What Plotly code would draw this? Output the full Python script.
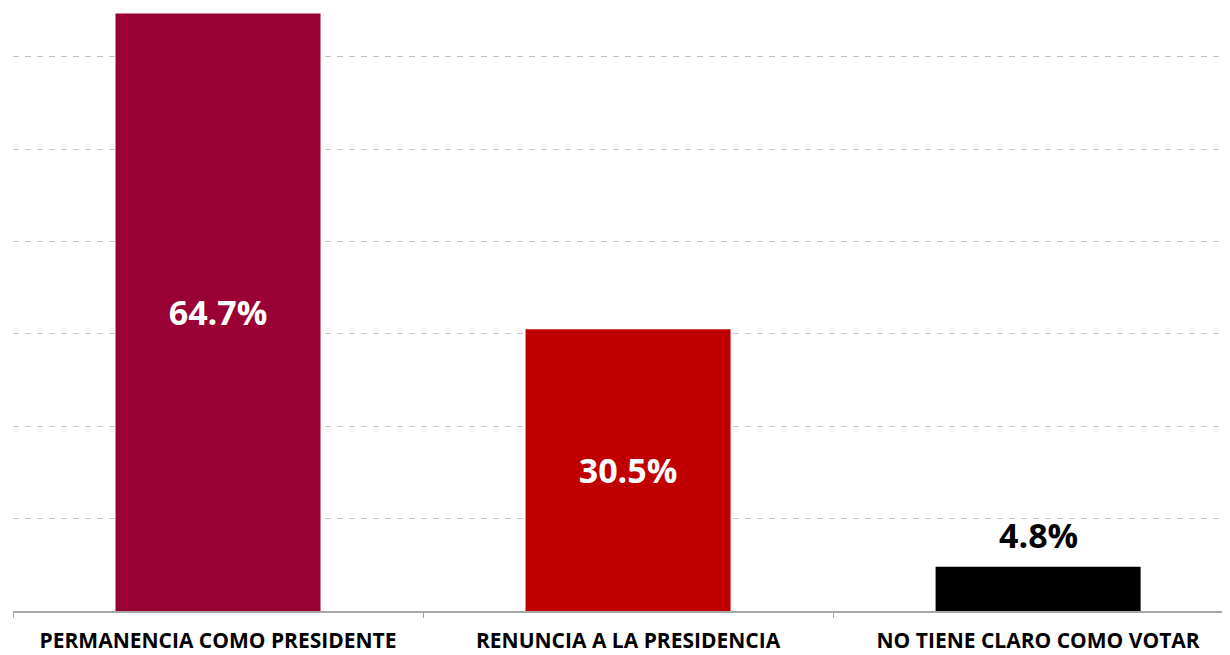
import plotly.graph_objects as go

categories = ['PERMANENCIA COMO PRESIDENTE', 'RENUNCIA A LA PRESIDENCIA', 'NO TIENE CLARO COMO VOTAR']
values = [64.7, 30.5, 4.8]
colors = ['#990033', '#C00000', '#000000']
inside = [True, True, False]

labels = [f'{v:.1f}%' for v in values]

fig = go.Figure()
fig.add_trace(go.Bar(
    x = categories,
    y = values,
    width = 0.5,
    marker = dict(color = colors, line = dict(width = 0)),
    text = [l if ins else '' for l, ins in zip(labels, inside)],
    textposition = 'inside',
    insidetextanchor = 'middle',
    textfont = dict(family = 'Open Sans', size = 34, color = 'white', weight = 'bold'),
    cliponaxis = False,
    hoverinfo = 'skip'
))

# label above the small bar
for c, v, l, ins in zip(categories, values, labels, inside):
    if not ins:
        fig.add_annotation(
            x = c, y = v, text = l,
            showarrow = False,
            yanchor = 'bottom',
            yshift = 7,
            font = dict(family = 'Open Sans', size = 34, color = 'black', weight = 'bold')
        )

# page has 8px body margin, so the figure is a bit smaller
fig.update_layout(
    width = 1222,
    height = 647,
    margin = dict(l = 5, r = 0, t = 0, b = 44),
    plot_bgcolor = 'white',
    paper_bgcolor = 'white',
    showlegend = False,
    font = dict(family = 'Open Sans', color = 'black')
)

fig.update_xaxes(
    range = [-0.5, 2.468],
    automargin = False,
    showline = True,
    linecolor = '#a6a6a6',
    linewidth = 1.5,
    ticks = 'outside',
    tickson = 'boundaries',
    ticklen = 5,
    tickcolor = '#a6a6a6',
    ticklabelstandoff = 10,
    tickfont = dict(family = 'Open Sans', size = 21, color = 'black', weight = 'bold'),
    showgrid = False
)

fig.update_yaxes(
    range = [0, 65.3],
    dtick = 10,
    automargin = False,
    showticklabels = False,
    showgrid = True,
    gridcolor = '#c4c4c4',
    griddash = '6px,6px',
    gridwidth = 1.3,
    zeroline = False,
    showline = False
)

fig.write_html("out.html")
